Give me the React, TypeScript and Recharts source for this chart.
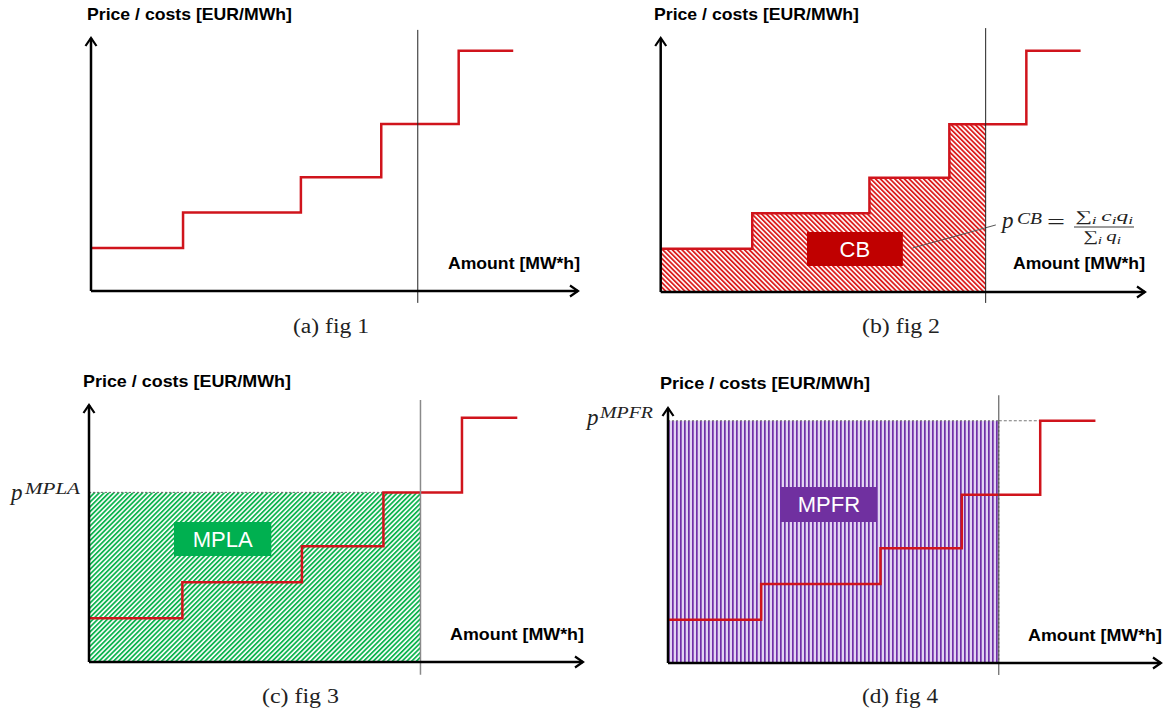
import React from 'react';
import { ComposedChart, Line, Area, XAxis, YAxis, ReferenceLine, ReferenceArea } from 'recharts';

// ---- data ----
const amounts = [0, 18.9, 43.1, 59.6, 67.1, 75.5, 86.7];
const prices = [17, 31, 45, 66, 66, 95, 95];
const demand = 67.1;
const amountMax = 100;
const priceMax = 100;
const mplaPrice = 66;
const mpfrPrice = 95;
const captionTexts = ['(a) fig 1', '(b) fig 2', '(c) fig 3', '(d) fig 4'];
const yTitle = 'Price / costs [EUR/MWh]';
const xTitle = 'Amount [MW*h]';

const rows = amounts.map((a, i) => ({
  amount: a,
  price: prices[i],
  cb: a <= demand ? prices[i] : null,
}));

const RED = '#d0141c';
const sans = "'Liberation Sans', Arial, sans-serif";
const serif = "'Liberation Serif', 'DejaVu Serif', serif";

type Variant = 'plain' | 'cb' | 'mpla' | 'mpfr';
interface Panel {
  left: number; top: number; width: number; height: number;
  margin: { top: number; right: number; bottom: number; left: number };
  variant: Variant; lineTop: number; lineBottom: number; lineColor: string; lineWidth: number;
}

const panels: Panel[] = [
  { left: 0, top: 0, width: 600, height: 310, margin: { top: 38, right: 22, bottom: 19, left: 91 }, variant: 'plain', lineTop: 103.2, lineBottom: -4.7, lineColor: '#222', lineWidth: 1 },
  { left: 580, top: 0, width: 583, height: 310, margin: { top: 38, right: 18, bottom: 18, left: 80.7 }, variant: 'cb', lineTop: 103.9, lineBottom: -4.3, lineColor: '#222', lineWidth: 1 },
  { left: 0, top: 360, width: 600, height: 330, margin: { top: 45, right: 17, bottom: 28, left: 89 }, variant: 'mpla', lineTop: 101.9, lineBottom: -5, lineColor: '#8a8a8a', lineWidth: 1.5 },
  { left: 580, top: 360, width: 583, height: 330, margin: { top: 48, right: 2, bottom: 27, left: 88 }, variant: 'mpfr', lineTop: 105, lineBottom: -4.7, lineColor: '#444', lineWidth: 1 },
];

function boxLabel(value: string) {
  return { value, position: 'center' as const, fill: '#fff', fontSize: 22, fontFamily: sans };
}

function PanelChart({ p }: { p: Panel }) {
  return (
    <div style={{ position: 'absolute', left: p.left, top: p.top, width: p.width, height: p.height }}>
      <ComposedChart width={p.width} height={p.height} data={rows} margin={p.margin}>
        <XAxis type="number" dataKey="amount" domain={[0, amountMax]} allowDataOverflow hide />
        <YAxis type="number" domain={[0, priceMax]} allowDataOverflow hide />
        {p.variant === 'cb' && (
          <Area dataKey="cb" type="stepAfter" fill="url(#redHatch)" fillOpacity={1} stroke="none" connectNulls={false} isAnimationActive={false} dot={false} activeDot={false} />
        )}
        {p.variant === 'mpla' && (
          <ReferenceArea x1={0} x2={demand} y1={0} y2={mplaPrice} fill="url(#greenHatch)" fillOpacity={1} stroke="#666" strokeDasharray="2 2" strokeWidth={1} />
        )}
        {p.variant === 'mpfr' && (
          <ReferenceArea x1={0} x2={demand} y1={0} y2={mpfrPrice} fill="url(#purpleStripes)" fillOpacity={1} stroke="#777" strokeDasharray="2 2" strokeWidth={1} />
        )}
        {p.variant === 'mpfr' && (
          <ReferenceLine segment={[{ x: demand, y: mpfrPrice }, { x: amounts[5], y: mpfrPrice }]} stroke="#777" strokeDasharray="3 2" strokeWidth={1} ifOverflow="visible" />
        )}
        {p.variant === 'cb' && (
          <ReferenceArea x1={30.2} x2={50} y1={10.2} y2={23.6} fill="#c00000" fillOpacity={1} stroke="none" label={boxLabel('CB')} />
        )}
        {p.variant === 'cb' && (
          <ReferenceLine segment={[{ x: 52, y: 17.3 }, { x: 69.2, y: 26.4 }]} stroke="#555" strokeWidth={1} ifOverflow="visible" />
        )}
        {p.variant === 'mpla' && (
          <ReferenceArea x1={17.2} x2={36.9} y1={41.2} y2={54.5} fill="#00b050" fillOpacity={1} stroke="none" label={boxLabel('MPLA')} />
        )}
        {p.variant === 'mpfr' && (
          <ReferenceArea x1={22.9} x2={42.4} y1={55.3} y2={69} fill="#7030a0" fillOpacity={1} stroke="none" label={boxLabel('MPFR')} />
        )}
        <Line dataKey="price" type="stepAfter" stroke={RED} strokeWidth={2.5} dot={false} activeDot={false} isAnimationActive={false} />
        <ReferenceLine segment={[{ x: demand, y: p.lineBottom }, { x: demand, y: p.lineTop }]} stroke={p.lineColor} strokeWidth={p.lineWidth} ifOverflow="visible" />
        {/* axes with arrow heads */}
        <ReferenceLine segment={[{ x: 0, y: 0 }, { x: amountMax, y: 0 }]} stroke="#000" strokeWidth={2.5} markerEnd="url(#arrowHead)" ifOverflow="visible" />
        <ReferenceLine segment={[{ x: 0, y: 0 }, { x: 0, y: priceMax }]} stroke="#000" strokeWidth={2.5} markerEnd="url(#arrowHead)" ifOverflow="visible" />
      </ComposedChart>
    </div>
  );
}

const titlePos = [
  { x: 87, y: 20, w: 205 }, { x: 654, y: 20, w: 205 }, { x: 83, y: 387, w: 208 }, { x: 660, y: 389, w: 210 },
];
const amountPos = [
  { x: 448, y: 268.5, w: 132 }, { x: 1013, y: 269, w: 132 }, { x: 450, y: 640, w: 134 }, { x: 1028, y: 641, w: 134 },
];
const captionPos = [
  { x: 293, y: 333, w: 76 }, { x: 862, y: 333, w: 78 }, { x: 262, y: 703, w: 77 }, { x: 862, y: 703, w: 76 },
];

function Overlay() {
  return (
    <svg width={1163} height={714} style={{ position: 'absolute', left: 0, top: 0, pointerEvents: 'none' }}>
      <defs>
        <marker id="arrowHead" viewBox="-10 -7 12 14" refX={0} refY={0} markerWidth={12} markerHeight={14} markerUnits="userSpaceOnUse" orient="auto">
          <path d="M-8,-5.5 L0,0 L-8,5.5" fill="none" stroke="#000" strokeWidth={2.2} />
        </marker>
        <pattern id="redHatch" patternUnits="userSpaceOnUse" width={3.4} height={3.4} patternTransform="rotate(-45)">
          <rect x={0} y={0} width={3.4} height={3.4} fill="#fff" />
          <rect x={0} y={0} width={1.8} height={3.4} fill="#dc1e1e" />
        </pattern>
        <pattern id="greenHatch" patternUnits="userSpaceOnUse" width={3.4} height={3.4} patternTransform="rotate(45)">
          <rect x={0} y={0} width={3.4} height={3.4} fill="#fff" />
          <rect x={0} y={0} width={1.8} height={3.4} fill="#0fb450" />
        </pattern>
        <pattern id="purpleStripes" patternUnits="userSpaceOnUse" width={4} height={4}>
          <rect x={0} y={0} width={4} height={4} fill="#e2d4f2" />
          <rect x={0} y={0} width={1.7} height={4} fill="#7030a8" />
        </pattern>
      </defs>
      {titlePos.map((t, i) => (
        <text key={'t' + i} x={t.x} y={t.y} fontFamily={sans} fontWeight="bold" fontSize={17} fill="#000" textLength={t.w} lengthAdjust="spacingAndGlyphs">{yTitle}</text>
      ))}
      {amountPos.map((t, i) => (
        <text key={'a' + i} x={t.x} y={t.y} fontFamily={sans} fontWeight="bold" fontSize={17} fill="#000" textLength={t.w} lengthAdjust="spacingAndGlyphs">{xTitle}</text>
      ))}
      {captionPos.map((t, i) => (
        <text key={'c' + i} x={t.x} y={t.y} fontFamily={serif} fontSize={20} fill="#222" textLength={t.w} lengthAdjust="spacingAndGlyphs">{captionTexts[i]}</text>
      ))}
      {/* p^MPLA */}
      <text x={11} y={500} fontFamily={serif} fontStyle="italic" fontSize={23} fill="#222">p</text>
      <text x={25} y={494} fontFamily={serif} fontStyle="italic" fontSize={16} fill="#222" textLength={55} lengthAdjust="spacingAndGlyphs">MPLA</text>
      {/* p^MPFR */}
      <text x={587} y={425} fontFamily={serif} fontStyle="italic" fontSize={23} fill="#222">p</text>
      <text x={600} y={418} fontFamily={serif} fontStyle="italic" fontSize={16} fill="#222" textLength={53} lengthAdjust="spacingAndGlyphs">MPFR</text>
      {/* p^CB = sum c q / sum q */}
      <text x={1002} y={228} fontFamily={serif} fontStyle="italic" fontSize={23} fill="#222">p</text>
      <text x={1017} y={224} fontFamily={serif} fontStyle="italic" fontSize={16} fill="#222" textLength={25} lengthAdjust="spacingAndGlyphs">CB</text>
      <text x={1047} y={229} fontFamily={serif} fontSize={22} fill="#222" textLength={18} lengthAdjust="spacingAndGlyphs">=</text>
      <text x={1075} y={221} fontFamily={serif} fontSize={15} fill="#222" textLength={58} lengthAdjust="spacingAndGlyphs">
        <tspan>∑</tspan>
        <tspan fontSize={11} fontStyle="italic" dy={2.5}>i</tspan>
        <tspan fontStyle="italic" dy={-2.5} dx={3}>c</tspan>
        <tspan fontSize={11} fontStyle="italic" dy={2.5}>i</tspan>
        <tspan fontStyle="italic" dy={-2.5}>q</tspan>
        <tspan fontSize={11} fontStyle="italic" dy={2.5}>i</tspan>
      </text>
      <line x1={1074} x2={1134} y1={227} y2={227} stroke="#222" strokeWidth={0.9} />
      <text x={1083} y={241} fontFamily={serif} fontSize={15} fill="#222" textLength={38} lengthAdjust="spacingAndGlyphs">
        <tspan>∑</tspan>
        <tspan fontSize={11} fontStyle="italic" dy={2.5}>i</tspan>
        <tspan fontStyle="italic" dy={-2.5} dx={3}>q</tspan>
        <tspan fontSize={11} fontStyle="italic" dy={2.5}>i</tspan>
      </text>
    </svg>
  );
}

export default function App() {
  return (
    <div style={{ position: 'absolute', left: 0, top: 0, width: 1163, height: 714, background: '#fff', overflow: 'hidden' }}>
      {panels.map((p, i) => (
        <PanelChart key={i} p={p} />
      ))}
      <Overlay />
    </div>
  );
}
